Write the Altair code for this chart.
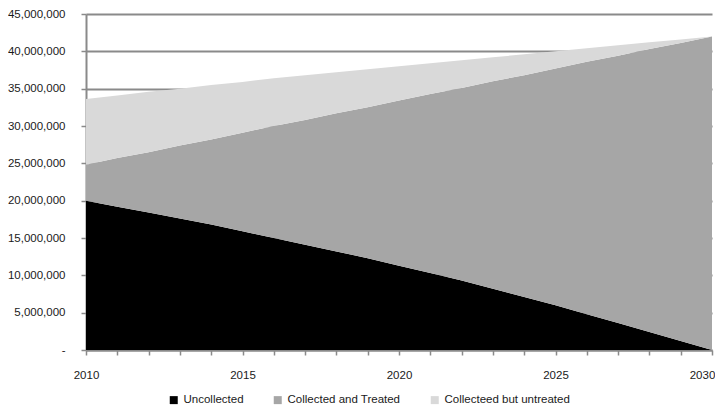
import altair as alt
import pandas as pd

years = list(range(2010, 2031))

# values in millions
uncollected_m = [20.0, 19.2, 18.4, 17.6, 16.8, 15.9, 15.0, 14.1, 13.2, 12.3, 11.3,
                 10.3, 9.3, 8.2, 7.1, 6.0, 4.8, 3.6, 2.4, 1.2, 0.0]
collected_treated_m = [4.8, 6.5, 8.1, 9.8, 11.4, 13.2, 15.0, 16.7, 18.5, 20.2, 22.1,
                       24.0, 25.8, 27.8, 29.7, 31.7, 33.8, 35.8, 37.9, 39.9, 42.0]
collected_untreated_m = [8.8, 8.4, 8.1, 7.6, 7.3, 6.8, 6.4, 6.0, 5.5, 5.1, 4.6,
                         4.1, 3.7, 3.2, 2.8, 2.3, 1.8, 1.4, 0.9, 0.5, 0.0]

series_names = ["Uncollected", "Collected and Treated", "Collecteed but untreated"]
series_colors = ["#000000", "#a6a6a6", "#d9d9d9"]
y_ticks = [0, 5e6, 10e6, 15e6, 20e6, 25e6, 30e6, 35e6, 40e6, 45e6]

rows = []
for k, (name, vals) in enumerate(zip(series_names,
                                     [uncollected_m, collected_treated_m, collected_untreated_m])):
    for yr, v in zip(years, vals):
        rows.append({"year": yr, "series": name, "value": v * 1e6, "order": k})
df = pd.DataFrame(rows)

FONT = "Liberation Sans"
GRID = "#8a8a8a"

chart = alt.Chart(df).mark_area(interpolate="linear", opacity=1).encode(
    x=alt.X("year:Q",
            scale=alt.Scale(domain=[2010, 2030], nice=False, zero=False),
            axis=alt.Axis(values=years, title=None, grid=False,
                          labelExpr="datum.value % 5 == 0 ? '' + datum.value : ''",
                          labelOverlap=False, labelFlush=False,
                          labelOffset={"condition": {"test": "datum.value == 2030", "value": -10},
                                       "value": 0},
                          tickSize=5, tickColor=GRID, tickWidth=1.5,
                          domainColor=GRID, domainWidth=2, labelPadding=14,
                          labelFont=FONT, labelFontSize=11.5, labelColor="#1a1a1a")),
    y=alt.Y("value:Q", stack="zero",
            scale=alt.Scale(domain=[0, 45e6], nice=False),
            axis=alt.Axis(values=y_ticks, title=None, grid=True, gridColor=GRID, gridWidth=2,
                          labelExpr="datum.value == 0 ? '-' : format(datum.value, ',')",
                          labelFlush=False,
                          tickSize=5, tickColor=GRID, tickWidth=1.5,
                          domainColor=GRID, domainWidth=2, labelPadding=16,
                          labelFont=FONT, labelFontSize=11.5, labelColor="#1a1a1a")),
    color=alt.Color("series:N",
                    scale=alt.Scale(domain=series_names, range=series_colors),
                    legend=alt.Legend(title=None, orient="none", legendX=82, legendY=380,
                                      direction="horizontal", symbolType="square",
                                      symbolSize=64, symbolStrokeWidth=0, columnPadding=28,
                                      labelOffset=4, labelFont=FONT, labelFontSize=11.5,
                                      labelColor="#1a1a1a")),
    order=alt.Order("order:Q", sort="ascending"),
).properties(
    width=626, height=336,
    autosize=alt.AutoSizeParams(type="none"),
    padding={"left": 78, "top": 6, "right": 3, "bottom": 58},
).configure_view(stroke=None)

chart.save("out.html", embed_options={"renderer": "svg", "actions": False})
